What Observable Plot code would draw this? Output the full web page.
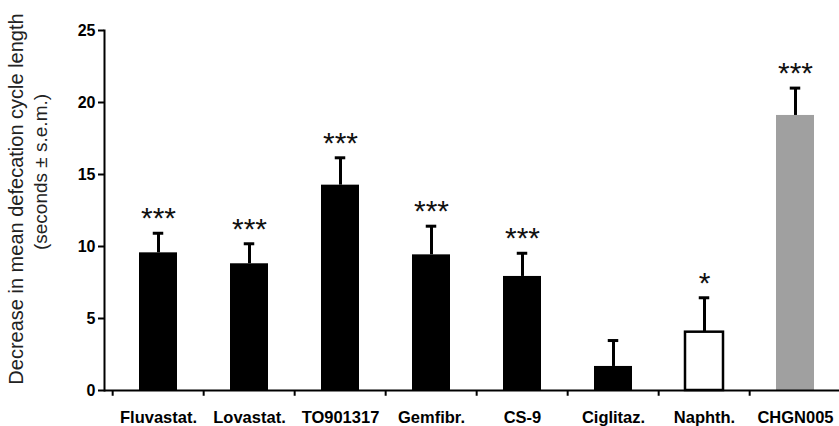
<!DOCTYPE html>
<html>
<head>
<meta charset="utf-8">
<script src="https://cdn.jsdelivr.net/npm/d3@7"></script>
<script src="https://cdn.jsdelivr.net/npm/@observablehq/plot@0.6"></script>
<style>
  body { margin: 0; background: #fff; }
  #chart { width: 839px; height: 426px; }
  svg { font-family: "Liberation Sans", Arial, sans-serif; }
</style>
</head>
<body>
<div id="chart"></div>
<script>
const categories = ["Fluvastat.", "Lovastat.", "TO901317", "Gemfibr.", "CS-9", "Ciglitaz.", "Naphth.", "CHGN005"];
const means = [9.56, 8.80, 14.26, 9.42, 7.92, 1.67, 4.05, 19.1];
const sems = [1.36, 1.39, 1.90, 1.99, 1.61, 1.80, 2.39, 1.9];
const significance = ["***", "***", "***", "***", "***", "", "*", "***"];
const yTicks = [0, 5, 10, 15, 20, 25];

const data = categories.map((c, i) => ({name: c, mean: means[i], sem: sems[i], top: means[i] + sems[i], sig: significance[i]}));

const fillFor = {"Naphth.": "white", "CHGN005": "#a0a0a0"};
const strokeFor = {"Naphth.": "black"};

const xRange = [114, 840];
const padding = 0.58, paddingOuter = 0.25;
const step = (xRange[1] - xRange[0]) / (categories.length - padding + 2 * paddingOuter);
const bw = step * (1 - padding);

const plot = Plot.plot({
  width: 839,
  height: 426,
  marginLeft: 104,
  marginRight: 0,
  marginTop: 30,
  marginBottom: 36,
  style: {fontFamily: "Liberation Sans, Arial, sans-serif", background: "white"},
  x: {type: "band", domain: categories, range: xRange, padding, paddingOuter, label: null},
  y: {domain: [0, 25], label: null},
  marks: [
    Plot.axisY({ticks: yTicks, tickSize: 6, tickPadding: 3, fontSize: 16, fontWeight: "bold", stroke: "black", strokeWidth: 2, color: "black", tickFormat: d => d}),
    Plot.axisX({tickSize: 0, tickPadding: 21, fontSize: 16.5, fontWeight: "bold", color: "black"}),
    Plot.barY(data, {x: "name", y: "mean", fill: d => fillFor[d.name] || "black", stroke: d => strokeFor[d.name] || "none", strokeWidth: 2.5}),
    Plot.ruleX(data, {x: "name", y1: "mean", y2: "top", stroke: "black", strokeWidth: 3}),
    Plot.tickY(data, {x: "name", y: "top", stroke: "black", strokeWidth: 3, insetLeft: (bw - 11) / 2, insetRight: (bw - 11) / 2}),
    Plot.text(data, {x: "name", y: "top", text: "sig", dy: -5, lineAnchor: "bottom", fontSize: 30, fill: "#111"}),
    Plot.ruleX(categories, {x: d => d, y1: 0, y2: -0.4, dx: -step / 2, stroke: "black", strokeWidth: 2}),
    Plot.ruleY([0], {stroke: "black", strokeWidth: 2}),
    Plot.frame({anchor: "left", stroke: "black", strokeWidth: 2})
  ]
});

const svg = d3.select(plot);
svg.append("text")
  .attr("transform", "translate(23,199) rotate(-90)")
  .attr("text-anchor", "middle")
  .attr("font-size", 20)
  .attr("fill", "#222")
  .text("Decrease in mean defecation cycle length");
svg.append("text")
  .attr("transform", "translate(47,172) rotate(-90)")
  .attr("text-anchor", "middle")
  .attr("font-size", 19)
  .attr("fill", "#222")
  .text("(seconds \u00b1 s.e.m.)");

document.getElementById("chart").appendChild(plot);
</script>
</body>
</html>
